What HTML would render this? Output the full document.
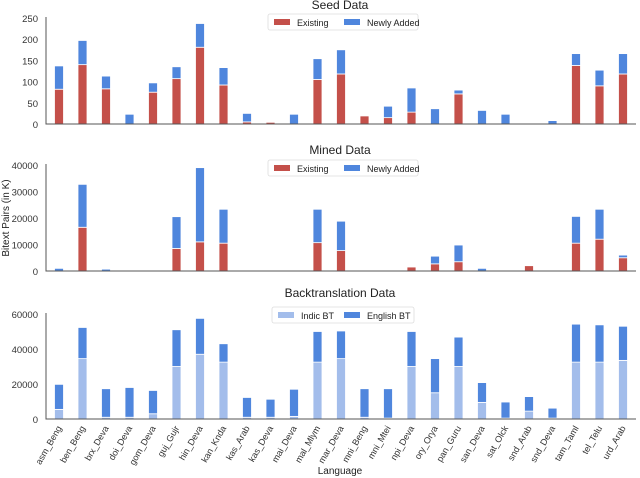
<!DOCTYPE html>
<html><head><meta charset="utf-8"><style>
html,body{margin:0;padding:0;background:#fff;}
svg{display:block;font-family:"Liberation Sans",sans-serif;}
</style></head><body>
<svg id="chart" width="640" height="478"></svg>
<script>
const languages=["asm_Beng","ben_Beng","brx_Deva","doi_Deva","gom_Deva","guj_Gujr","hin_Deva","kan_Knda","kas_Arab","kas_Deva","mai_Deva","mal_Mlym","mar_Deva","mni_Beng","mni_Mtei","npi_Deva","ory_Orya","pan_Guru","san_Deva","sat_Olck","snd_Arab","snd_Deva","tam_Taml","tel_Telu","urd_Arab"];
const seedExisting=[82,140,83,0,75,107,181,92,5,4,0,105,118,19,15,28,0,71,0,0,0,0,138,90,118];
const seedNew=[55,57,30,23,22,28,56,41,20,0,23,49,57,0,27,57,36,9,32,23,0,8,28,37,48];
const minedExisting=[0,16500,0,0,0,8500,11000,10500,0,0,0,10700,7700,0,0,1500,2700,3500,0,0,2000,0,10500,12000,5000];
const minedNew=[1000,16200,700,0,0,12000,28000,12800,0,0,0,12600,11100,0,0,0,2900,6300,1000,0,0,0,10100,11300,1000];
const btIndic=[5500,34500,1000,1000,3000,30000,37000,32500,1000,1000,1500,32500,34500,1000,500,30000,15000,30000,9500,500,4500,500,32500,32500,33500];
const btEnglish=[14300,17800,16300,17000,13300,21000,20500,10500,11300,10300,15500,17500,15800,16300,16800,20000,19500,16800,11300,9200,8300,5700,21700,21300,19500];
const seedTicks=[0,50,100,150,200,250];
const minedTicks=[0,10000,20000,30000,40000];
const btTicks=[0,20000,40000,60000];

const NS="http://www.w3.org/2000/svg";
const svg=document.getElementById('chart');
function mk(tag,attrs,parent){const e=document.createElementNS(NS,tag);for(const k in attrs)e.setAttribute(k,attrs[k]);(parent||svg).appendChild(e);return e;}
const x0=59,step=23.5,bw=9,axL=46,axR=636;
function xc(i){return x0+i*step;}

function panel(key,title,titleY,yTop,yBot,maxV,ticks,a,b,ca,cb,la,lb,legY){
  const g=mk('g',{});
  
  
  const y=v=>yBot-(v/maxV)*(yBot-yTop);
  const t=mk('text',{x:340,y:titleY,'text-anchor':'middle','font-size':12,fill:'#222'},g);t.textContent=title;
  
  ticks.forEach(v=>{const tl=mk('text',{x:38,y:y(v)+4,'text-anchor':'end','font-size':9.5,fill:'#333'},g);tl.textContent=v;
    });
  languages.forEach((l,i)=>{
    const cx=xc(i);
    if(a[i]>0){const r=mk('rect',{x:cx-bw/2,y:y(a[i]),width:bw,height:yBot-y(a[i]),fill:ca,stroke:'#fff','stroke-width':0.8},g);
      }
    if(b[i]>0){const r=mk('rect',{x:cx-bw/2,y:y(a[i]+b[i]),width:bw,height:y(a[i])-y(a[i]+b[i]),fill:cb,stroke:'#fff','stroke-width':0.8},g);
      }
  });
  const ax=mk('path',{d:`M${axL} ${yTop-1}V${yBot}H${axR}`,stroke:'#555','stroke-width':1,fill:'none'},g);
  
  const lg=mk('g',{},g);
  const lx=(key==='bt')?272:268, lw=(key==='bt')?142:150;
  mk('rect',{x:lx,y:legY,width:lw,height:16,fill:'#fff',stroke:'#ddd','stroke-width':0.8,rx:2},lg);
  mk('rect',{x:lx+6,y:legY+5,width:16,height:6,fill:ca},lg);
  const t1=mk('text',{x:lx+29,y:legY+12,'font-size':9,fill:'#222'},lg);t1.textContent=la;
  
  const off=(key==='bt')?72:76;
  mk('rect',{x:lx+off,y:legY+5,width:16,height:6,fill:cb},lg);
  const t2=mk('text',{x:lx+off+23,y:legY+12,'font-size':9,fill:'#222'},lg);t2.textContent=lb;
  
}
panel('seed','Seed Data',9,18,124,250,seedTicks,seedExisting,seedNew,'#c4504a','#4f86dd','Existing','Newly Added',14);
panel('mined','Mined Data',154,165,271,40000,minedTicks,minedExisting,minedNew,'#c4504a','#4f86dd','Existing','Newly Added',160);
panel('bt','Backtranslation Data',297,314,419,60000,btTicks,btIndic,btEnglish,'#a3bdeb','#4f86dd','Indic BT','English BT',307);
languages.forEach((l,i)=>{
  const t=mk('text',{transform:`translate(${xc(i)+3},${428}) rotate(-60)`,'text-anchor':'end','font-size':9,fill:'#333'});
  t.textContent=l;
  
  
});
const xt=mk('text',{x:340,y:474,'text-anchor':'middle','font-size':10,fill:'#222'});xt.textContent='Language';


const yt=mk('text',{transform:'translate(9,218) rotate(-90)','text-anchor':'middle','font-size':10,fill:'#222'});yt.textContent='Bitext Pairs (in K)';


</script>
</body></html>
